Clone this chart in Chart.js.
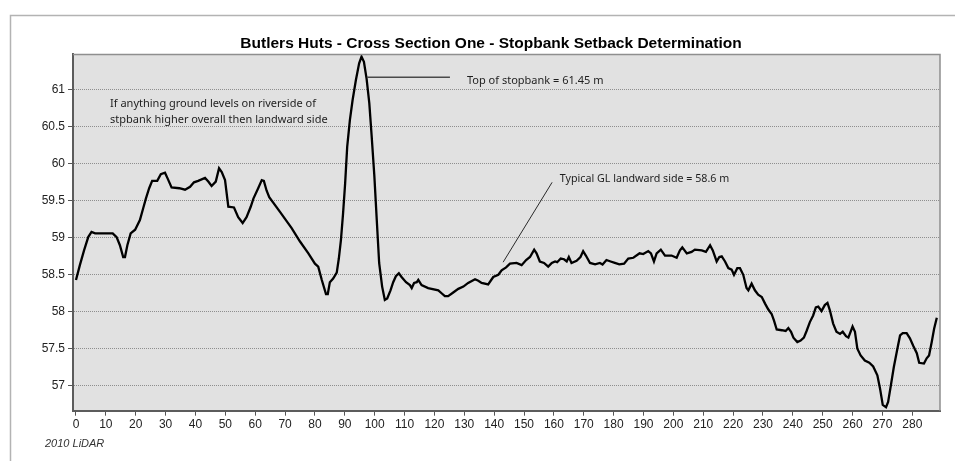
<!DOCTYPE html>
<html>
<head>
<meta charset="utf-8">
<title>Butlers Huts - Cross Section One</title>
<script src="https://cdn.jsdelivr.net/npm/chart.js@4.4.1/dist/chart.umd.min.js"></script>
<style>
  html, body { margin: 0; padding: 0; background: #ffffff; overflow: hidden; }
  #wrap { width: 955px; height: 461px; position: relative; }
</style>
</head>
<body>
<div id="wrap"><canvas id="section" width="955" height="461"></canvas></div>
<script>
// Chainage along the cross section (m) and LiDAR ground level (m)
const distance = [
  0.0, 1.3, 2.7, 4.1, 5.2, 6.4, 9.1, 12.3, 13.6, 14.7, 15.8, 16.4, 17.2, 18.3, 19.8,
  21.4, 22.5, 23.4, 24.5, 25.5, 27.2, 28.4, 29.8, 30.7, 32.0, 34.6, 36.5, 38.2, 39.5,
  40.9, 43.2, 44.3, 45.4, 46.8, 47.9, 48.8, 49.9, 51.0, 52.9, 54.3, 55.8, 57.1, 58.5,
  59.4, 61.0, 62.2, 62.9, 63.8, 64.7, 68.3, 72.2, 75.0, 77.8, 80.0, 81.1, 82.3, 83.7,
  84.3, 85.0, 86.1, 87.3, 88.0, 88.7, 89.4, 90.1, 90.8, 91.7, 92.6, 93.7, 94.8, 95.6,
  96.4, 97.3, 98.2, 99.0, 99.9, 100.7, 101.5, 102.5, 103.4, 104.2, 105.3, 106.2, 107.1,
  108.1, 109.0, 110.5, 111.8, 112.4, 113.2, 114.1, 114.6, 115.7, 117.9, 121.3, 122.4,
  123.5, 124.6, 126.3, 128.0, 129.7, 131.3, 133.6, 134.7, 135.8, 138.0, 139.7, 141.4,
  142.5, 144.0, 145.3, 147.5, 149.2, 150.7, 152.0, 153.4, 154.2, 155.3, 156.7, 158.1,
  159.3, 160.4, 161.1, 162.3, 163.4, 164.3, 165.0, 165.9, 167.6, 168.9, 169.8, 170.7,
  172.1, 173.8, 175.4, 176.3, 177.6, 179.0, 180.4, 181.9, 183.5, 184.9, 186.6, 188.7,
  189.9, 191.6, 192.5, 193.5, 194.4, 195.8, 197.2, 199.4, 201.1, 202.2, 203.0, 204.5,
  206.1, 207.2, 209.5, 210.9, 212.3, 213.2, 214.5, 215.4, 216.2, 217.3, 218.4, 219.5,
  220.3, 221.4, 222.3, 223.4, 224.5, 225.1, 226.2, 227.3, 228.4, 229.6, 230.7, 231.8,
  232.9, 233.7, 234.6, 236.3, 237.6, 238.5, 239.4, 240.2, 241.5, 242.6, 243.7, 244.6,
  245.7, 246.8, 247.7, 248.5, 249.6, 250.7, 251.6, 252.4, 253.5, 254.6, 255.8, 256.7,
  257.8, 258.6, 260.0, 260.8, 261.6, 262.7, 264.1, 265.6, 266.9, 268.3, 269.2, 270.1,
  271.2, 271.9, 272.8, 273.8, 275.0, 275.9, 276.8, 278.1, 279.2, 280.3, 281.5, 282.3,
  283.9, 284.8, 285.6, 286.5, 287.3, 288.2
];
const elevation = [
  58.43, 58.63, 58.83, 59.01, 59.08, 59.06, 59.06, 59.06, 59.01, 58.90, 58.74, 58.74, 58.90, 59.06, 59.11,
  59.24, 59.40, 59.53, 59.67, 59.77, 59.77, 59.86, 59.88, 59.80, 59.68, 59.67, 59.65, 59.69, 59.75,
  59.77, 59.81, 59.76, 59.70, 59.76, 59.94, 59.89, 59.78, 59.42, 59.41, 59.28, 59.20, 59.28, 59.42,
  59.53, 59.67, 59.78, 59.77, 59.64, 59.55, 59.35, 59.13, 58.95, 58.79, 58.65, 58.61, 58.43, 58.24,
  58.24, 58.40, 58.45, 58.53, 58.72, 58.97, 59.32, 59.73, 60.23, 60.59, 60.86, 61.13, 61.36, 61.45,
  61.38, 61.15, 60.82, 60.37, 59.83, 59.24, 58.66, 58.34, 58.16, 58.18, 58.29, 58.40, 58.48,
  58.52, 58.47, 58.40, 58.36, 58.32, 58.39, 58.40, 58.43, 58.36, 58.32, 58.29, 58.25,
  58.21, 58.21, 58.26, 58.31, 58.34, 58.39, 58.44, 58.42, 58.39, 58.37, 58.47, 58.50,
  58.56, 58.60, 58.65, 58.66, 58.63, 58.70, 58.74, 58.84, 58.79, 58.68, 58.66, 58.61,
  58.66, 58.68, 58.67, 58.72, 58.71, 58.68, 58.74, 58.66, 58.69, 58.74, 58.82, 58.76,
  58.66, 58.64, 58.66, 58.64, 58.70, 58.68, 58.66, 58.64, 58.65, 58.72, 58.73, 58.79,
  58.78, 58.82, 58.79, 58.68, 58.79, 58.84, 58.76, 58.76, 58.73, 58.83, 58.87, 58.79,
  58.81, 58.84, 58.83, 58.81, 58.90, 58.83, 58.68, 58.74, 58.75, 58.68, 58.59, 58.57,
  58.50, 58.59, 58.59, 58.50, 58.32, 58.29, 58.38, 58.29, 58.23, 58.20, 58.11, 58.03,
  57.97, 57.88, 57.76, 57.75, 57.74, 57.78, 57.73, 57.65, 57.59, 57.61, 57.65, 57.74,
  57.86, 57.95, 58.06, 58.07, 58.01, 58.09, 58.12, 58.02, 57.84, 57.73, 57.70, 57.73,
  57.67, 57.65, 57.80, 57.73, 57.50, 57.41, 57.34, 57.31, 57.26, 57.14, 56.96, 56.74,
  56.71, 56.78, 57.00, 57.25, 57.50, 57.68, 57.71, 57.71, 57.64, 57.54, 57.44, 57.31,
  57.30, 57.37, 57.41, 57.59, 57.77, 57.92
];

// Axis ticks
const xTickValues = [0, 10, 20, 30, 40, 50, 60, 70, 80, 90, 100, 110, 120, 130, 140,
  150, 160, 170, 180, 190, 200, 210, 220, 230, 240, 250, 260, 270, 280];
const yTickValues = [57, 57.5, 58, 58.5, 59, 59.5, 60, 60.5, 61];
const xTickLabels = xTickValues.map(String);
const yTickLabels = yTickValues.map(String);

// Axis extents
const xRange = [-1.0, 289.27];
const yRange = [56.662, 61.48];

// Text notes, anchored in data units
const stopbankTop = 61.45;
const stopbankNote = 'Top of stopbank = ' + stopbankTop + ' m';
const stopbankLeader = [[97.4, 61.17], [125.2, 61.17]];
const stopbankNoteAt = [130.9, 61.12];

const landwardGL = 58.6;
const landwardNote = 'Typical GL landward side = ' + landwardGL + ' m';
const landwardLeader = [[159.4, 59.75], [143.0, 58.67]];
const landwardNoteAt = [162.0, 59.80];

const riversideNote = [
  'If anything ground levels on riverside of',
  'stpbank higher overall then landward side'
];
const riversideNoteAt = [[11.4, 60.81], [11.4, 60.60]];

const chartTitle = 'Butlers Huts - Cross Section One - Stopbank Setback Determination';
const sourceNote = '2010 LiDAR';

const AXIS_FONT = '"Liberation Sans", Arial, sans-serif';
const NOTE_FONT = '"Noto Sans", "Open Sans", sans-serif';

const points = distance.map((d, i) => ({ x: d, y: elevation[i] }));

const decorations = {
  id: 'decorations',
  beforeDraw(chart) {
    const { ctx, chartArea: a } = chart;
    ctx.save();
    ctx.fillStyle = '#ffffff';
    ctx.fillRect(0, 0, chart.width, chart.height);
    // panel frame
    ctx.strokeStyle = '#b3b3b3';
    ctx.lineWidth = 1.5;
    ctx.beginPath();
    ctx.moveTo(10.5, chart.height);
    ctx.lineTo(10.5, 15.5);
    ctx.lineTo(chart.width, 15.5);
    ctx.stroke();
    // plot background
    ctx.fillStyle = '#e1e1e1';
    ctx.fillRect(a.left, a.top, a.right - a.left, a.bottom - a.top);
    ctx.restore();
  },
  afterDraw(chart) {
    const { ctx, chartArea: a } = chart;
    const xs = chart.scales.x, ys = chart.scales.y;
    const px = v => xs.getPixelForValue(v);
    const py = v => ys.getPixelForValue(v);
    ctx.save();
    // top and right edges of the plot box
    ctx.strokeStyle = '#8f8f8f';
    ctx.lineWidth = 1.5;
    ctx.beginPath();
    ctx.moveTo(a.left, a.top);
    ctx.lineTo(a.right, a.top);
    ctx.lineTo(a.right, a.bottom);
    ctx.stroke();

    // leader lines
    ctx.strokeStyle = '#4a4a4a';
    ctx.lineWidth = 1.5;
    ctx.beginPath();
    ctx.moveTo(px(stopbankLeader[0][0]), py(stopbankLeader[0][1]));
    ctx.lineTo(px(stopbankLeader[1][0]), py(stopbankLeader[1][1]));
    ctx.stroke();
    ctx.strokeStyle = '#2a2a2a';
    ctx.lineWidth = 1;
    ctx.beginPath();
    ctx.moveTo(px(landwardLeader[0][0]), py(landwardLeader[0][1]));
    ctx.lineTo(px(landwardLeader[1][0]), py(landwardLeader[1][1]));
    ctx.stroke();

    // notes
    ctx.fillStyle = '#1e1e1e';
    ctx.font = '11px ' + NOTE_FONT;
    ctx.textBaseline = 'middle';
    ctx.textAlign = 'left';
    ctx.fillText(stopbankNote, px(stopbankNoteAt[0]), py(stopbankNoteAt[1]));
    ctx.font = '10.7px ' + NOTE_FONT;
    ctx.fillText(landwardNote, px(landwardNoteAt[0]), py(landwardNoteAt[1]));
    ctx.font = '11px ' + NOTE_FONT;
    riversideNote.forEach((t, i) => {
      ctx.fillText(t, px(riversideNoteAt[i][0]), py(riversideNoteAt[i][1]));
    });

    // source note under the axis
    ctx.fillStyle = '#333333';
    ctx.font = 'italic 11px ' + AXIS_FONT;
    ctx.fillText(sourceNote, 45, 444);
    ctx.restore();
  }
};

new Chart(document.getElementById('section'), {
  type: 'line',
  data: {
    datasets: [{
      data: points,
      borderColor: '#000000',
      borderWidth: 2.3,
      pointRadius: 0,
      tension: 0,
      fill: false
    }]
  },
  options: {
    responsive: false,
    animation: false,
    devicePixelRatio: 1,
    layout: { padding: { left: 42, right: 15, top: 20, bottom: 0 } },
    plugins: {
      legend: { display: false },
      tooltip: { enabled: false },
      title: {
        display: true,
        text: chartTitle,
        color: '#000000',
        font: { family: AXIS_FONT, size: 15.5, weight: 'bold' },
        padding: { top: 14.7, bottom: 1.1 }
      }
    },
    scales: {
      x: {
        type: 'linear',
        min: xRange[0],
        max: xRange[1],
        afterFit: s => { s.height = 50.3; },
        afterBuildTicks: s => { s.ticks = xTickValues.map(v => ({ value: v })); },
        grid: { drawOnChartArea: false, drawTicks: true, tickLength: 5, tickColor: '#555555', tickWidth: 1 },
        border: { display: true, color: '#5c5c5c', width: 2 },
        ticks: {
          autoSkip: false,
          maxRotation: 0,
          padding: 2,
          color: '#222222',
          font: { family: AXIS_FONT, size: 12 },
          callback: (v, i) => xTickLabels[i]
        }
      },
      y: {
        type: 'linear',
        min: yRange[0],
        max: yRange[1],
        afterFit: s => { s.width = 31; },
        afterBuildTicks: s => { s.ticks = yTickValues.map(v => ({ value: v })); },
        grid: { color: '#8e8e8e', lineWidth: 1, drawTicks: true, tickLength: 5, tickColor: '#555555', tickWidth: 1 },
        border: { display: true, color: '#5c5c5c', width: 2, dash: [1, 1] },
        ticks: {
          autoSkip: false,
          padding: 3,
          color: '#222222',
          font: { family: AXIS_FONT, size: 12 },
          callback: (v, i) => yTickLabels[i]
        }
      }
    }
  },
  plugins: [decorations]
});
</script>
</body>
</html>
